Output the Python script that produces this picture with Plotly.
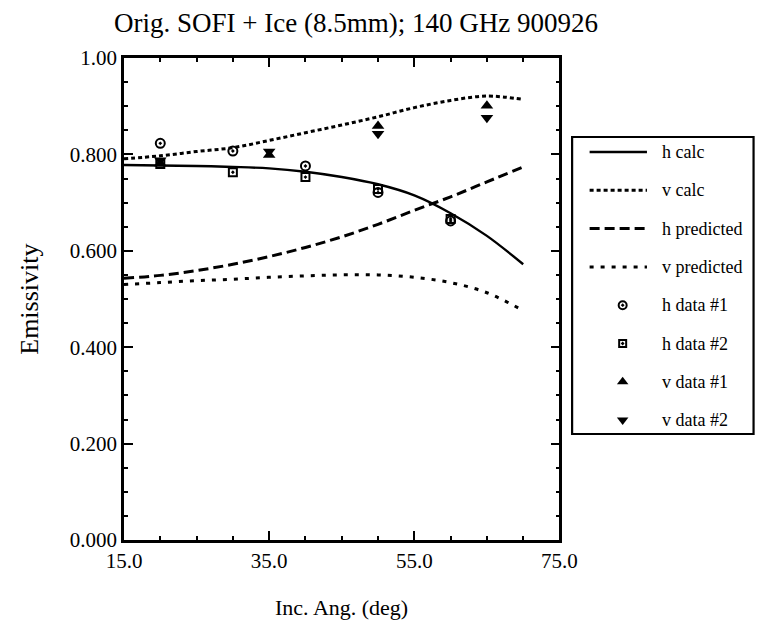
import plotly.graph_objects as go

# ---- data -------------------------------------------------------------
# Incidence angles (deg) at which the model curves are tabulated
angle_curve = [15, 20, 25, 30, 35, 40, 45, 50, 55, 60, 65, 70]
h_calc = [0.778, 0.777, 0.776, 0.774, 0.771, 0.764, 0.753, 0.738, 0.715, 0.678, 0.631, 0.572]
v_calc = [0.791, 0.797, 0.806, 0.814, 0.829, 0.845, 0.861, 0.878, 0.897, 0.912, 0.921, 0.914]
h_predicted = [0.543, 0.549, 0.559, 0.572, 0.588, 0.607, 0.629, 0.655, 0.684, 0.712, 0.743, 0.774]
v_predicted = [0.530, 0.534, 0.538, 0.541, 0.545, 0.548, 0.550, 0.550, 0.545, 0.534, 0.513, 0.476]

# Measured emissivities
angle_h = [20, 30, 40, 50, 60]
h_data_1 = [0.823, 0.807, 0.776, 0.721, 0.662]
h_data_2 = [0.780, 0.763, 0.753, 0.728, 0.666]
angle_v = [20, 35, 50, 65]
v_data_1 = [0.781, 0.799, 0.859, 0.901]
v_data_2 = [0.788, 0.806, 0.843, 0.876]

x_tick_vals = [15, 35, 55, 75]
x_tick_text = ["15.0", "35.0", "55.0", "75.0"]
y_tick_vals = [0.0, 0.2, 0.4, 0.6, 0.8, 1.0]
y_tick_text = ["0.000", "0.200", "0.400", "0.600", "0.800", "1.00"]

series_names = ["h calc", "v calc", "h predicted", "v predicted",
                "h data #1", "h data #2", "v data #1", "v data #2"]

# ---- styling ----------------------------------------------------------
SERIF = "Liberation Serif"
INK = "black"
W, H = 768, 640
M_L, M_R, M_T, M_B = 124, 0, 58, 100
PLOT_W = 448
paper_w = W - M_L - M_R
paper_h = H - M_T - M_B

line_styles = {
    "h calc": dict(dash="solid", width=2.4),
    "v calc": dict(dash="4px,3px", width=3),
    "h predicted": dict(dash="10px,5px", width=3),
    "v predicted": dict(dash="4px,7px", width=3),
}
marker_styles = {
    "h data #1": dict(symbol="circle-open-dot", size=9, line=dict(width=2, color=INK)),
    "h data #2": dict(symbol="square-open-dot", size=8, line=dict(width=2, color=INK)),
    "v data #1": dict(symbol="triangle-up", size=11, line=dict(width=0)),
    "v data #2": dict(symbol="triangle-down", size=11, line=dict(width=0)),
}

curves = {
    "h calc": (angle_curve, h_calc),
    "v calc": (angle_curve, v_calc),
    "h predicted": (angle_curve, h_predicted),
    "v predicted": (angle_curve, v_predicted),
    "h data #1": (angle_h, h_data_1),
    "h data #2": (angle_h, h_data_2),
    "v data #1": (angle_v, v_data_1),
    "v data #2": (angle_v, v_data_2),
}

fig = go.Figure()

for name in series_names:
    xs, ys = curves[name]
    if name in line_styles:
        st = line_styles[name]
        fig.add_trace(go.Scatter(
            x=xs, y=ys, mode="lines", name=name, showlegend=False,
            line=dict(color=INK, width=st["width"], dash=st["dash"], shape="spline", smoothing=1.0),
        ))
    else:
        fig.add_trace(go.Scatter(
            x=xs, y=ys, mode="markers", name=name, showlegend=False,
            marker=dict(color=INK, **marker_styles[name]),
        ))

# ---- key box drawn on its own hidden axes ----------------------------
KEY_LEFT, KEY_RIGHT = 585, 772          # px
KEY_TOP, KEY_BOTTOM = 137, 434          # px
ROW0, ROW_STEP = 152, 38.3              # px
SAMPLE_X0, SAMPLE_X1, SYMBOL_X, TEXT_X = 18, 77, 52, 90

key_dom_x = [(KEY_LEFT - M_L) / paper_w, 1.0]
key_dom_y = [(H - M_B - KEY_BOTTOM) / paper_h, (H - M_B - KEY_TOP) / paper_h]
key_range_x = [0, W - KEY_LEFT]
key_range_y = [(KEY_BOTTOM - ROW0) / ROW_STEP, -(ROW0 - KEY_TOP) / ROW_STEP]

for i, name in enumerate(series_names):
    if name in line_styles:
        st = line_styles[name]
        fig.add_trace(go.Scatter(
            x=[SAMPLE_X0, SAMPLE_X1], y=[i, i], mode="lines", showlegend=False,
            xaxis="x2", yaxis="y2", hoverinfo="skip",
            line=dict(color=INK, width=st["width"], dash=st["dash"]),
        ))
    else:
        ms = dict(marker_styles[name])
        ms["size"] = ms["size"] - 1
        fig.add_trace(go.Scatter(
            x=[SYMBOL_X], y=[i], mode="markers", showlegend=False,
            xaxis="x2", yaxis="y2", hoverinfo="skip",
            marker=dict(color=INK, **ms),
        ))
    fig.add_annotation(
        x=TEXT_X, y=i, xref="x2", yref="y2", text=name, showarrow=False,
        xanchor="left", yanchor="middle",
        font=dict(family=SERIF, size=18, color=INK),
    )

fig.add_shape(type="rect", xref="x2 domain", yref="y2 domain",
              x0=0, x1=1.02, y0=0, y1=1, line=dict(color=INK, width=2.2))

# ---- axes --------------------------------------------------------------
axis_common = dict(
    showline=True, linecolor=INK, linewidth=2.5, mirror="allticks",
    ticks="inside", ticklen=9, tickwidth=2, tickcolor=INK,
    showgrid=False, zeroline=False,
    tickfont=dict(family=SERIF, size=21, color=INK),
)

fig.update_layout(
    width=W, height=H,
    margin=dict(l=M_L, r=M_R, t=M_T, b=M_B),
    paper_bgcolor="white", plot_bgcolor="white",
    showlegend=False,
    xaxis=dict(domain=[0, PLOT_W / paper_w], range=[15, 75],
               tickvals=x_tick_vals, ticktext=x_tick_text,
               minor=dict(dtick=5, ticks="inside", ticklen=4, tickwidth=1.5, tickcolor=INK),
               **axis_common),
    yaxis=dict(domain=[0, 1], range=[0, 1],
               tickvals=y_tick_vals, ticktext=y_tick_text,
               minor=dict(dtick=0.05, ticks="inside", ticklen=4, tickwidth=1.5, tickcolor=INK),
               **axis_common),
    xaxis2=dict(domain=key_dom_x, range=key_range_x, visible=False, fixedrange=True),
    yaxis2=dict(domain=key_dom_y, range=key_range_y, visible=False, fixedrange=True,
                anchor="x2"),
    title=dict(text="Orig. SOFI + Ice (8.5mm); 140 GHz 900926",
               x=356 / W, xref="container", xanchor="center",
               y=1 - 23 / H, yref="container", yanchor="middle",
               font=dict(family=SERIF, size=27, color=INK)),
)

# axis titles
fig.add_annotation(text="Emissivity", textangle=-90, showarrow=False,
                   xref="paper", yref="paper", x=(26 - M_L) / paper_w, y=0.5,
                   xanchor="center", yanchor="middle",
                   font=dict(family=SERIF, size=26, color=INK))
fig.add_annotation(text="Inc. Ang. (deg)", showarrow=False,
                   xref="x domain", yref="paper", x=0.5, y=-(607 - (H - M_B)) / paper_h,
                   xanchor="center", yanchor="middle",
                   font=dict(family=SERIF, size=22, color=INK))

fig.write_html("out.html")
